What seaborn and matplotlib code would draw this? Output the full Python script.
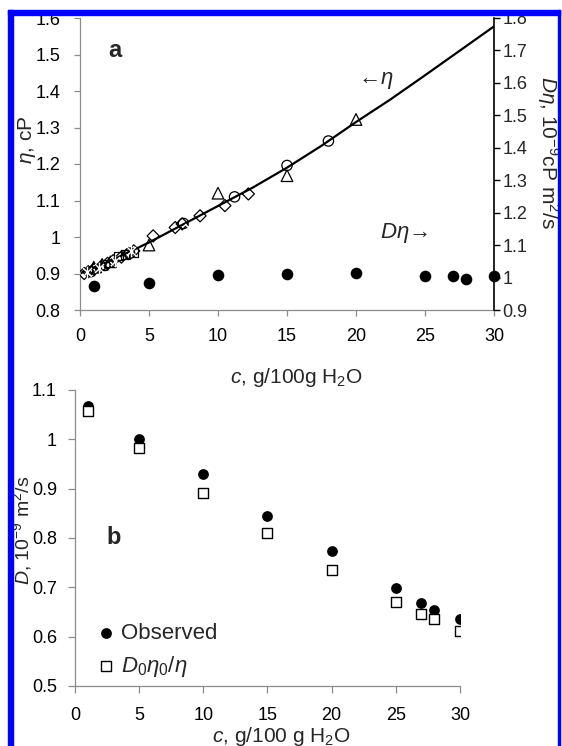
import matplotlib
matplotlib.use("Agg")
import matplotlib.pyplot as plt
import numpy as np
import seaborn as sns
from matplotlib.patches import Rectangle
from matplotlib.path import Path
from matplotlib.ticker import FuncFormatter

# ---- panel a: viscosity vs concentration ----
eta_c = [0, 2.5, 5, 7.5, 10, 12.5, 15, 17.5, 20, 22.5, 25, 27.5, 30]
eta_fit = [0.900, 0.940, 0.985, 1.035, 1.085, 1.135, 1.190, 1.250, 1.315, 1.377, 1.443, 1.510, 1.577]

diam_c = [0.3, 0.6, 1.0, 1.5, 2.0, 2.4, 3.0, 3.5, 3.9, 5.3, 6.9, 7.4, 8.7, 10.5, 12.2]
diam_eta = [0.900, 0.905, 0.912, 0.918, 0.928, 0.935, 0.945, 0.955, 0.962, 1.003, 1.026, 1.036, 1.058, 1.086, 1.118]
tri_c = [1.0, 1.6, 2.2, 5.0, 10.0, 15.0, 20.0]
tri_eta = [0.917, 0.925, 0.932, 0.978, 1.120, 1.168, 1.322]
circ_c = [0.8, 1.8, 3.6, 7.5, 11.2, 15.0, 18.0]
circ_eta = [0.905, 0.922, 0.955, 1.037, 1.110, 1.196, 1.263]
sq_c = [1.2, 2.8, 3.3, 3.9]
sq_eta = [0.915, 0.948, 0.952, 0.958]
ast_c = [0.5, 1.4, 2.5, 3.7, 7.9, 21.3]
ast_eta = [0.905, 0.915, 0.935, 0.962, 1.025, 1.293]

deta_c = [1, 5, 10, 15, 20, 25, 27, 28, 30]
deta_val = [0.975, 0.984, 1.008, 1.010, 1.015, 1.005, 1.004, 0.996, 1.005]

# ---- panel b: diffusion coefficient ----
d_c = [1, 5, 10, 15, 20, 25, 27, 28, 30]
d_obs = [1.068, 1.000, 0.930, 0.845, 0.774, 0.698, 0.669, 0.654, 0.635]
d_calc = [1.058, 0.983, 0.892, 0.810, 0.735, 0.670, 0.645, 0.635, 0.612]

sns.set_style("ticks")
plt.rcParams["font.family"] = ["Liberation Sans", "DejaVu Sans"]
plt.rcParams["mathtext.fontset"] = "custom"
plt.rcParams["mathtext.rm"] = "Liberation Sans"
plt.rcParams["mathtext.it"] = "Liberation Sans:italic"
plt.rcParams["mathtext.bf"] = "Liberation Sans:bold"

W, H = 562, 746
fig = plt.figure(figsize=(W / 100, H / 100), dpi=100)


def px_axes(l, t, r, b):
    return fig.add_axes([l / W, 1 - b / H, (r - l) / W, (b - t) / H])


fmt = FuncFormatter(lambda v, p: f"{v:g}")
grey = "#8c8c8c"
TICK = 13
LAB = 15

# asterisk marker like Excel's (x plus vertical bar)
ast_marker = Path([(-1, -1), (1, 1), (-1, 1), (1, -1), (0, -1.3), (0, 1.3)],
                  [Path.MOVETO, Path.LINETO] * 3)

ax1 = px_axes(80, 18, 494, 310)
sns.lineplot(x=eta_c, y=eta_fit, ax=ax1, color="black", linewidth=1.6, zorder=2)
open_kw = dict(facecolor="none", edgecolor="black", linewidth=0.9, ax=ax1, zorder=3)
sns.scatterplot(x=diam_c, y=diam_eta, marker="D", s=38, **open_kw)
sns.scatterplot(x=tri_c, y=tri_eta, marker="^", s=70, **open_kw)
sns.scatterplot(x=circ_c, y=circ_eta, marker="o", s=55, **open_kw)
sns.scatterplot(x=sq_c, y=sq_eta, marker="s", s=40, **open_kw)
sns.scatterplot(x=ast_c, y=ast_eta, marker=ast_marker, s=70, color="black",
                linewidth=1.0, ax=ax1, zorder=3)

ax1.set_xlim(0, 30)
ax1.set_ylim(0.8, 1.6)
ax1.set_xticks(range(0, 31, 5))
ax1.set_yticks(np.arange(0.8, 1.61, 0.1))
ax1.yaxis.set_major_formatter(fmt)
for s in ["top", "right"]:
    ax1.spines[s].set_visible(False)
for s in ["left", "bottom"]:
    ax1.spines[s].set_color(grey)
    ax1.spines[s].set_linewidth(0.9)
ax1.tick_params(axis="both", direction="out", length=4, width=0.9, color=grey,
                labelsize=TICK, labelcolor="black")
ax1.tick_params(axis="x", pad=9)
ax1.tick_params(axis="y", pad=10)
ax1.set_xlabel(r"$c$, g/100g H$_2$O", fontsize=LAB)
ax1.xaxis.label.set_va("center")
ax1.xaxis.set_label_coords((296 - 80) / 414, (310 - 377) / 292)
ax1.set_ylabel(r"$\eta$, cP", fontsize=LAB)
ax1.yaxis.label.set_va("center")
ax1.yaxis.set_label_coords((27 - 80) / 414, (310 - 140) / 292)
ax1.text(2.5, 1.512, "a", fontsize=17, fontweight="bold", ha="center", va="center")
ax1.text(21.4, 1.43, "\u2190$\\eta$", fontsize=16, ha="center", va="center")
ax1.text(23.5, 1.012, "$D\\eta$\u2192", fontsize=16, ha="center", va="center")

ax2 = ax1.twinx()
sns.scatterplot(x=deta_c, y=deta_val, ax=ax2, color="black", s=70,
                edgecolor="black", linewidth=0, zorder=4, clip_on=False)
ax2.set_ylim(0.9, 1.8)
ax2.set_yticks(np.arange(0.9, 1.81, 0.1))
ax2.yaxis.set_major_formatter(fmt)
for s in ["top", "left", "bottom"]:
    ax2.spines[s].set_visible(False)
ax2.spines["right"].set_color("black")
ax2.spines["right"].set_linewidth(1.2)
ax2.tick_params(axis="y", direction="out", length=4, width=1.0, color="black",
                labelsize=TICK, pad=2)
ax2.set_ylabel(r"$D\eta$, $10^{-9}$cP m$^2$/s", fontsize=LAB, rotation=270)
ax2.yaxis.label.set_va("center")
ax2.yaxis.set_label_coords((548 - 80) / 414, (310 - 152) / 292)

# ---- panel b ----
ax3 = px_axes(75, 390, 460, 686)
sns.scatterplot(x=d_c, y=d_obs, ax=ax3, color="black", s=60, linewidth=0,
                zorder=3, label="Observed")
sns.scatterplot(x=d_c, y=d_calc, ax=ax3, marker="s", s=48, facecolor="white",
                edgecolor="black", linewidth=1.0, zorder=4,
                label=r"$D_0\eta_0/\eta$")
ax3.set_xlim(0, 30)
ax3.set_ylim(0.5, 1.1)
ax3.set_xticks(range(0, 31, 5))
ax3.set_yticks(np.arange(0.5, 1.11, 0.1))
ax3.yaxis.set_major_formatter(fmt)
for s in ["top", "right"]:
    ax3.spines[s].set_visible(False)
for s in ["left", "bottom"]:
    ax3.spines[s].set_color(grey)
    ax3.spines[s].set_linewidth(0.9)
ax3.tick_params(axis="both", direction="out", length=5, width=0.9, color=grey,
                labelsize=TICK, labelcolor="black")
ax3.tick_params(axis="x", pad=10)
ax3.tick_params(axis="y", pad=8)
ax3.set_xlabel(r"$c$, g/100 g H$_2$O", fontsize=LAB)
ax3.xaxis.label.set_va("center")
ax3.xaxis.set_label_coords((281 - 75) / 385, (686 - 736) / 296)
ax3.set_ylabel(r"$D$, $10^{-9}$ m$^2$/s", fontsize=14)
ax3.yaxis.label.set_va("center")
ax3.yaxis.set_label_coords((22 - 75) / 385, (686 - 530) / 296)
ax3.text(3.0, 0.80, "b", fontsize=17, fontweight="bold", ha="center", va="center")
ax3.legend(loc="lower left", bbox_to_anchor=(0.055, 0.025), frameon=False,
           fontsize=16, handlelength=0.9, handletextpad=0.2, labelspacing=0.45,
           borderaxespad=0, borderpad=0)

# blue frame around the figure
blue = "#0000ff"
fig.patches.extend([
    Rectangle((8 / W, 0), 5 / W, (H - 10) / H, transform=fig.transFigure,
              color=blue, zorder=10),
    Rectangle((8 / W, 1 - 15 / H), 552 / W, 5 / H, transform=fig.transFigure,
              color=blue, zorder=10),
    Rectangle((558 / W, 0), 2 / W, (H - 10) / H, transform=fig.transFigure,
              color=blue, zorder=10),
])

fig.savefig("out.png", dpi=100)
plt.close(fig)
